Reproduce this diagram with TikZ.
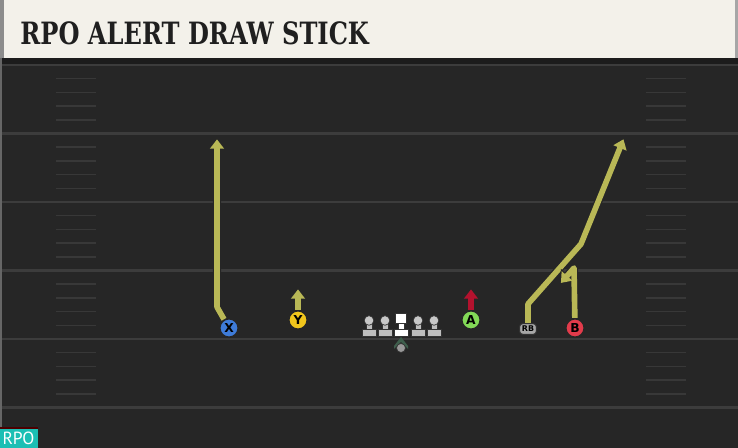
\documentclass[tikz,border=0pt]{standalone}
\usepackage{tikz}
\usepackage{xcolor}
\usepackage{fontspec}
\usetikzlibrary{arrows.meta}
\newfontfamily\titlefont{DejaVu Serif}
\newfontfamily\labelfont{DejaVu Sans}
\newfontfamily\badgefont{PT Sans}
\definecolor{field}{HTML}{262626}
\definecolor{fielddark}{HTML}{1C1C1C}
\definecolor{yardline}{HTML}{3C3C3C}
\definecolor{hashmark}{HTML}{383838}
\definecolor{banner}{HTML}{F3F1EA}
\definecolor{routeyellow}{HTML}{B9B856}
\definecolor{xblue}{HTML}{3E7BD8}
\definecolor{yyellow}{HTML}{F1C61C}
\definecolor{agreen}{HTML}{82D957}
\definecolor{bred}{HTML}{E23B4B}
\definecolor{blockred}{HTML}{B3122E}
\definecolor{linegray}{HTML}{BDBDBD}
\definecolor{qbgreen}{HTML}{3E5E4C}
\definecolor{rpoteal}{HTML}{1BBFB4}
\tikzset{
  player/.style={circle, draw=black!85, line width=0.9pt, minimum size=0.37cm,
    inner sep=0pt, font=\labelfont\bfseries\fontsize{7}{7}\selectfont},
  routeedge/.style={line width=4.6pt, black!85, line join=round,
    -{Triangle[length=6.8pt,width=10pt]}},
  route/.style={line width=3.2pt, routeyellow, line join=round,
    -{Triangle[length=5.3pt,width=7.8pt]}, shorten >=0.8pt},
}
\begin{document}
\begin{tikzpicture}[x=0.02cm, y=-0.02cm]
    \useasboundingbox (0,0) rectangle (738,448);

    % field
    \fill[field] (0,0) rectangle (738,448);
    \fill[fielddark] (0,58) rectangle (738,64);
    \fill[black!60] (0,58) rectangle (2,448);
    \foreach \yl in {65, 133.5, 202, 270.5, 339, 407.5}
        \draw[yardline, line width=1.2pt] (2,\yl) -- (738,\yl);
    \foreach \yl in {65, 133.5, 202, 270.5, 339}
        \foreach \k in {1,2,3,4}
        {
            \draw[hashmark, line width=0.9pt] (56,\yl+13.7*\k) -- (96,\yl+13.7*\k);
            \draw[hashmark, line width=0.9pt] (646,\yl+13.7*\k) -- (686,\yl+13.7*\k);
        }

    % title banner
    \fill[banner] (0,0) rectangle (736,58);
    \fill[black!45] (0,0) rectangle (4,58);
    \fill[black!35] (735,0) rectangle (738,58);
    \node[anchor=west, inner sep=0pt] (title) at (20,33)
        {\scalebox{0.785}[1]{\titlefont\bfseries\fontsize{17.5}{17.5}\selectfont\color{black!88}RPO ALERT DRAW STICK}};

    % rpo badge
    \fill[rpoteal] (0,428) rectangle (38,448);
    \draw[red!30!black, line width=0.6pt] (0,428) -- (38,428);
    \node[text=white, inner sep=0pt] (badge) at (18.5,438.5)
        {\badgefont\fontsize{10}{10}\selectfont RPO};

    % offensive line
    \foreach \lx in {369, 385, 418, 434}
    {
        \filldraw[fill=linegray, draw=black!80, line width=0.4pt]
            (\lx-7,329) rectangle (\lx+7,336);
        \filldraw[fill=linegray, draw=black!80, line width=0.4pt]
            (\lx-3,323) rectangle (\lx+3,329);
        \filldraw[fill=linegray!85, draw=black!80, line width=0.4pt]
            (\lx,320.5) circle (4.8);
    }
    \filldraw[fill=white, draw=black!80, line width=0.4pt] (394,329) rectangle (408,336);
    \filldraw[fill=white, draw=black!80, line width=0.4pt] (398,322) rectangle (404,329);
    \filldraw[fill=white, draw=black!80, line width=0.4pt] (395.5,313) rectangle (406.5,323);

    % quarterback
    \fill[qbgreen] (394,346) -- (401,337) -- (408,346) -- (408,349) -- (401,342) -- (394,349) -- cycle;
    \filldraw[fill=black!40, draw=black!80, line width=0.4pt] (401,348) circle (4.5);

    % skill players
    \node[player, fill=xblue] (X) at (229,328) {X};
    \node[player, fill=yyellow] (Y) at (298,320) {Y};
    \node[player, fill=agreen] (A) at (471,320) {A};
    \node[player, fill=bred] (B) at (575,328) {B};
    \node[rounded corners=2pt, fill=black!35, draw=black!80, line width=0.6pt,
        minimum width=0.34cm, minimum height=0.22cm, inner sep=0pt,
        font=\labelfont\bfseries\fontsize{4.5}{4.5}\selectfont] (RB) at (528,329) {RB};

    \coordinate (xbreak) at (217,307);
    \coordinate (xend) at (217,138);
    \coordinate (yend) at (298,288);
    \coordinate (aend) at (471,288);
    \coordinate (rbup) at (528,304);
    \coordinate (rbbreak) at (581,244);
    \coordinate (rbend) at (624,138);
    \coordinate (btop) at (574,268);
    \coordinate (bend) at (560,284);

    % routes
    \draw[routeedge] (X) -- (xbreak) -- (xend);
    \draw[route] (X) -- (xbreak) -- (xend);
    \draw[routeedge] (Y) -- (yend);
    \draw[route] (Y) -- (yend);
    \draw[routeedge] (RB) -- (rbup) -- (rbbreak) -- (rbend);
    \draw[route] (RB) -- (rbup) -- (rbbreak) -- (rbend);
    \draw[routeedge] (B) -- (btop) -- (bend);
    \draw[route] (B) -- (btop) -- (bend);

    % block
    \draw[line width=4.6pt, black!85, -{Triangle[length=6.8pt,width=10pt]}] (A) -- (aend);
    \draw[line width=3.2pt, blockred, -{Triangle[length=5.3pt,width=7.8pt]}, shorten >=0.8pt] (A) -- (aend);

\end{tikzpicture}
\end{document}
